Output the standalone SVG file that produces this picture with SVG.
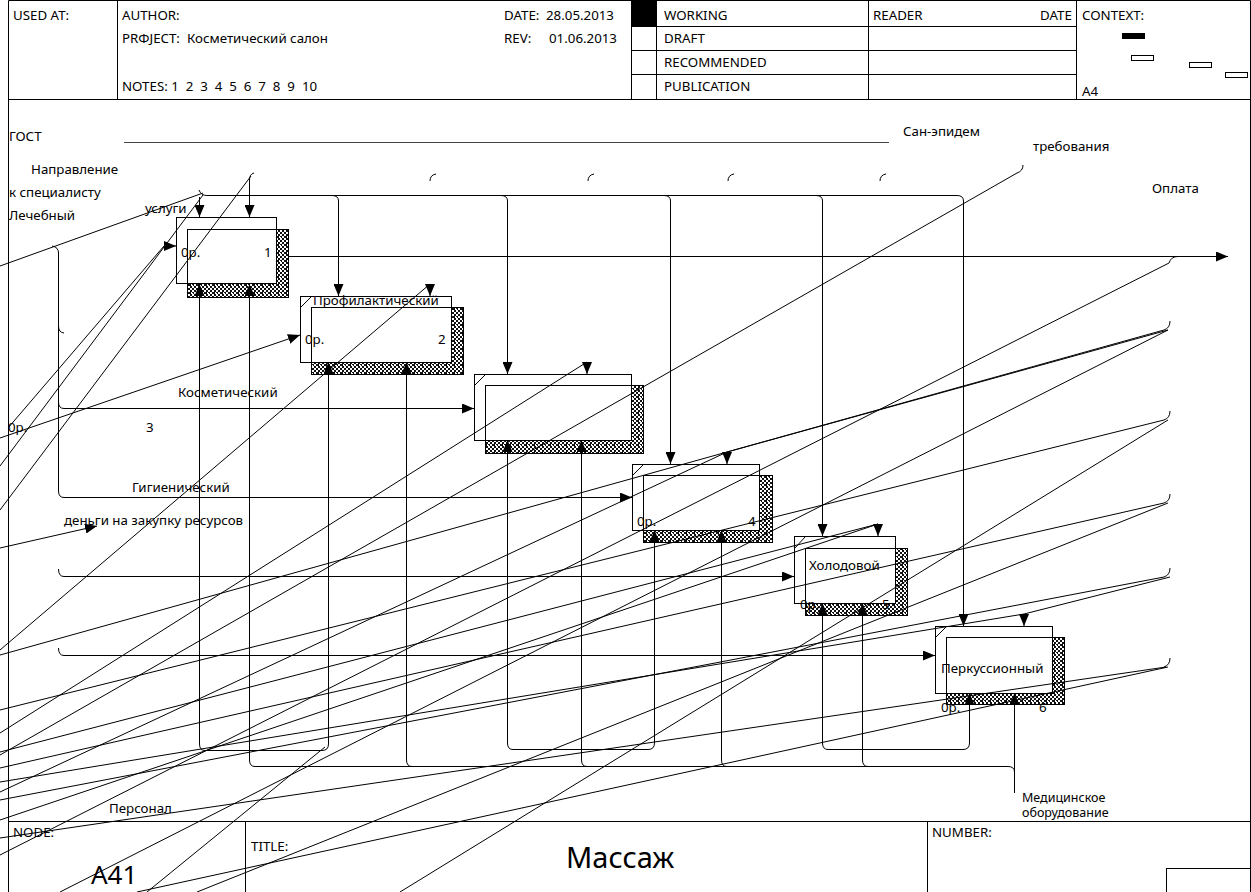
<svg xmlns="http://www.w3.org/2000/svg" width="1251" height="892" viewBox="0 0 1251 892">
<style>
.t{font-family:"Noto Sans","Open Sans",sans-serif;font-size:13.3px;fill:#000}
.sm{font-size:12.5px}
.big{font-size:29px}
.mid{font-size:26px}
.f{fill:none;stroke:#000;stroke-width:1}
.g{fill:none;stroke:#444;stroke-width:1}
.d{fill:none;stroke:#000;stroke-width:1}
.arr{marker-end:url(#m)}
.sh{fill:url(#pat);stroke:#000}
.in{fill:#fff;stroke:#000}
.out{fill:none;stroke:#000}
</style>
<defs>
<pattern id="pat" width="8" height="8" patternUnits="userSpaceOnUse">
<rect width="8" height="8" fill="#fff"/>
<path d="M0,0h2v2h-2z M4,0h2v2h-2z M2,2h2v2h-2z M6,2h2v2h-2z M0,4h2v1h-2z M4,4h3v2h-3z M2,6h2v2h-2z M6,6h2v2h-2z M1,5h1v1h-1z" fill="#111"/>
</pattern>
<marker id="m" viewBox="0 0 12 10" refX="12" refY="5" markerWidth="12" markerHeight="10" markerUnits="userSpaceOnUse" orient="auto">
<path d="M0,0L12,5L0,10Z" fill="#000"/>
</marker>
</defs>
<rect width="1251" height="892" fill="#fff"/>
<g id="frame" class="f">
<path d="M8.5,0.5H1250.5V892 M8.5,0.5V892"/>
</g>
<g id="header">
<g class="f">
<path d="M8,99.5H1251"/>
<path d="M117.5,0V99.5 M631.5,0V99.5 M656.5,0V99.5 M868.5,0V99.5 M1076.5,0V99.5"/>
<path d="M631,26.5H1076 M631,50.5H1076 M631,74.5H1076"/>
</g>
<rect x="631" y="0" width="26" height="27" fill="#000"/>
<text class="t" x="13" y="20">USED AT:</text>
<text class="t" x="122" y="20">AUTHOR:</text>
<text class="t" x="122" y="43">PRΦJECT:</text>
<text class="t" x="187" y="43">Косметический салон</text>
<text class="t" x="122" y="91" xml:space="preserve">NOTES: 1  2  3  4  5  6  7  8  9  10</text>
<text class="t" x="504" y="20">DATE:</text>
<text class="t" x="546" y="20">28.05.2013</text>
<text class="t" x="504" y="43">REV:</text>
<text class="t" x="549" y="43">01.06.2013</text>
<text class="t" x="664" y="20">WORKING</text>
<text class="t" x="664" y="43">DRAFT</text>
<text class="t" x="664" y="67">RECOMMENDED</text>
<text class="t" x="664" y="91">PUBLICATION</text>
<text class="t" x="873" y="20">READER</text>
<text class="t" x="1040" y="20">DATE</text>
<text class="t" x="1082" y="20">CONTEXT:</text>
<text class="t" x="1082" y="96">A4</text>
<rect x="1122" y="33" width="23" height="6" fill="#000"/>
<rect x="1131.5" y="55.5" width="22" height="5" fill="#fff" stroke="#000"/>
<rect x="1189.5" y="62.5" width="22" height="5" fill="#fff" stroke="#000"/>
<rect x="1225.5" y="72.5" width="22" height="5" fill="#fff" stroke="#000"/>
</g>
<g id="footer">
<g class="f">
<path d="M8,821.5H1251 M245.5,821.5V892 M927.5,821.5V892"/>
<rect x="1166.5" y="868.5" width="85" height="24"/>
</g>
<text class="t" x="13" y="837">NODE:</text>
<text class="t" x="251" y="851">TITLE:</text>
<text class="t" x="932" y="837">NUMBER:</text>
<text class="t mid" x="91" y="884">A41</text>
<text class="t big" x="566" y="868">Массаж</text>
</g>
<g id="box1">
<rect class="sh" x="187.5" y="229.5" width="101" height="68"/>
<rect class="in" x="187.5" y="229.5" width="89" height="54"/>
<rect class="out" x="176.5" y="217.5" width="100" height="66"/>
<text class="t" x="181" y="257">0р.</text>
<text class="t" x="264" y="257">1</text>
</g>
<g id="box2">
<rect class="sh" x="311.5" y="307.5" width="152" height="67"/>
<rect class="in" x="311.5" y="307.5" width="140" height="55"/>
<rect class="out" x="300.5" y="296.5" width="151" height="66"/>
<path class="f" d="M300.5,307.5L311.5,296.5"/>
<text class="t" x="313" y="305">Профилактический</text>
<text class="t" x="305" y="344">0р.</text>
<text class="t" x="438" y="344">2</text>
</g>
<g id="box3">
<rect class="sh" x="485.5" y="385.5" width="158" height="68"/>
<rect class="in" x="485.5" y="385.5" width="146" height="55"/>
<rect class="out" x="474.5" y="374.5" width="157" height="66"/>
<path class="f" d="M474.5,385.5L485.5,374.5"/>
<text class="t" x="8" y="432">0р.</text>
<text class="t" x="146" y="432">3</text>
</g>
<g id="box4">
<rect class="sh" x="643.5" y="475.5" width="129" height="67"/>
<rect class="in" x="643.5" y="475.5" width="116" height="55"/>
<rect class="out" x="632.5" y="464.5" width="127" height="66"/>
<path class="f" d="M632.5,475.5L643.5,464.5"/>
<text class="t" x="637" y="526">0р.</text>
<text class="t" x="748" y="526">4</text>
</g>
<g id="box5">
<rect class="sh" x="805.5" y="548.5" width="102" height="67"/>
<rect class="in" x="805.5" y="548.5" width="90" height="55"/>
<rect class="out" x="794.5" y="536.5" width="101" height="67"/>
<path class="f" d="M794.5,548.5L805.5,536.5"/>
<text class="t" x="809" y="570">Холодовой</text>
<text class="t" x="800" y="609">0р.</text>
<text class="t" x="882" y="609">5</text>
</g>
<g id="box6">
<rect class="sh" x="946.5" y="637.5" width="118" height="67"/>
<rect class="in" x="946.5" y="637.5" width="106" height="56"/>
<rect class="out" x="935.5" y="626.5" width="117" height="67"/>
<path class="f" d="M935.5,637.5L946.5,626.5"/>
<text class="t" x="941" y="673">Перкуссионный</text>
<text class="t" x="941" y="712">0р.</text>
<text class="t" x="1039" y="712">6</text>
</g>
<g id="connectors">
<path class="g" d="M124,142.5H889"/>
<g class="f">
<path d="M199,190 Q201,195.5 207,195.5 H957"/>
<path class="arr" d="M332,195.5 Q338.5,195.5 338.5,201 V296"/>
<path class="arr" d="M501,195.5 Q507.5,195.5 507.5,201 V374"/>
<path class="arr" d="M664,195.5 Q670.5,195.5 670.5,201 V464"/>
<path class="arr" d="M816,195.5 Q822.5,195.5 822.5,201 V536"/>
<path class="arr" d="M957,195.5 Q963.5,195.5 963.5,201 V626"/>
<path class="arr" d="M199.5,197 V217"/>
<path class="arr" d="M254,173 Q249.5,174 249.5,180 V217"/>
<path class="arr" d="M430,284 V296"/>
<path class="arr" d="M587,362 V374"/>
<path class="arr" d="M727,452 V464"/>
<path class="arr" d="M878,524 V536"/>
<path class="arr" d="M1024,614 V626"/>
<path class="arr" d="M164,246 H176"/>
<path class="arr" d="M0,438 L300,335"/>
<path class="arr" d="M0,548 L97,526"/>
<path class="arr" d="M52,246 Q58.5,247 58.5,253 V402 Q58.5,408.5 64,408.5 H474"/>
<path class="arr" d="M58.5,402 V491 Q58.5,497.5 64,497.5 H632"/>
<path d="M58.5,326 Q58.5,332.5 64,333"/>
<path class="arr" d="M58.5,569 Q58.5,576.5 64,576.5 H794"/>
<path class="arr" d="M58.5,648 Q58.5,655.5 64,655.5 H935"/>
<path class="arr" d="M288,256.5 H1228"/>
<path class="arr" d="M322,750.5 H205 Q199.5,750.5 199.5,744 V284"/>
<path class="arr" d="M322,750.5 Q328.5,750.5 328.5,744 V362"/>
<path class="arr" d="M1008,766.5 H255 Q249.5,766.5 249.5,760 V284"/>
<path class="arr" d="M412,766.5 Q406.5,766.5 406.5,760 V362"/>
<path class="arr" d="M513,749.5 Q507.5,749.5 507.5,743 V440"/>
<path class="arr" d="M513,749.5 H648 Q654.5,749.5 654.5,743 V530"/>
<path class="arr" d="M587,766.5 Q581.5,766.5 581.5,760 V440"/>
<path class="arr" d="M727,766.5 Q721.5,766.5 721.5,760 V530"/>
<path class="arr" d="M828,749.5 Q822.5,749.5 822.5,743 V603"/>
<path class="arr" d="M828,749.5 H963 Q969.5,749.5 969.5,743 V693"/>
<path class="arr" d="M868,766.5 Q862.5,766.5 862.5,760 V603"/>
<path d="M1008,766.5 Q1014.5,766.5 1014.5,772"/>
<path class="arr" d="M1014.5,793 V693"/>
<path d="M1170,321 Q1170,328 1164,330"/>
<path d="M1170,411 Q1170,418 1164,420"/>
<path d="M1170,494 Q1170,501 1164,503"/>
<path d="M1170,568 Q1170,575 1164,577"/>
<path d="M1170,658 Q1170,665 1164,667"/>
<path d="M430,181 Q430,175 436,174"/>
<path d="M588,181 Q588,175 594,174"/>
<path d="M728,181 Q728,175 734,174"/>
<path d="M880,181 Q880,175 886,174"/>
<path d="M1023,165 Q1023,171 1017,173"/>
<path d="M1178,256.5 Q1171,256.5 1169,263"/>
</g>
<g class="d">
<path d="M0,266 L203,193"/>
<path d="M251,176 L0,510"/>
<path d="M203,195 L0,466"/>
<path d="M164,246 L8,428"/>
<path d="M430,284 L0,650"/>
<path d="M587,362 L0,733"/>
<path d="M727,452 L0,792"/>
<path d="M878,524 L0,820"/>
<path d="M878,524 L0,752"/>
<path d="M1024,614 L0,782"/>
<path d="M1170,577 L1024,614"/>
<path d="M1017,173 L0,755"/>
<path d="M1169,263 L0,855"/>
<path d="M1164,330 L0,655"/>
<path d="M1168,330 L727,452"/>
<path d="M1168,330 L60,892"/>
<path d="M1164,420 L0,710"/>
<path d="M1168,420 L400,892"/>
<path d="M1164,503 L0,768"/>
<path d="M1168,503 L197,892"/>
<path d="M1164,577 L0,800"/>
<path d="M1166,667 L0,838"/>
<path d="M1168,667 L137,892"/>
<path d="M325,747 L147,892"/>
</g>
</g>
<g id="labels">
<text class="t" x="9" y="141">ГОСТ</text>
<text class="t" x="31" y="174">Направление</text>
<text class="t" x="9" y="197">к специалисту</text>
<text class="t" x="9" y="220">Лечебный</text>
<text class="t" x="145" y="213">услуги</text>
<text class="t" x="903" y="136">Сан-эпидем</text>
<text class="t" x="1033" y="151">требования</text>
<text class="t" x="1152" y="193">Оплата</text>
<text class="t" x="178" y="397">Косметический</text>
<text class="t" x="132" y="492">Гигиенический</text>
<text class="t" x="64" y="525">деньги на закупку ресурсов</text>
<text class="t" x="109" y="813">Персонал</text>
<text class="t sm" x="1022" y="802">Медицинское</text>
<text class="t sm" x="1022" y="817">оборудование</text>
</g>
</svg>
